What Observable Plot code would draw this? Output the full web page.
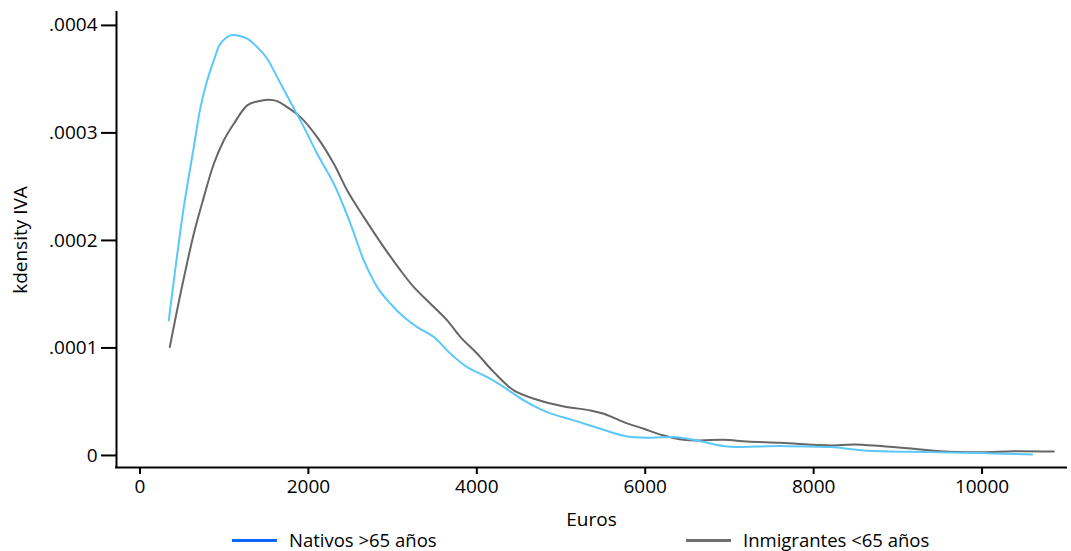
<!DOCTYPE html>
<html>
<head>
<meta charset="utf-8">
<script src="https://cdn.jsdelivr.net/npm/d3@7"></script>
<script src="https://cdn.jsdelivr.net/npm/@observablehq/plot@0.6"></script>
<style>
  html, body { margin: 0; padding: 0; background: #fff; overflow: hidden; }
  #wrap { position: relative; width: 1071px; height: 551px; font-family: "Open Sans", sans-serif; }
  #chart { position: absolute; left: 0; top: 0; }
  #legend { position: absolute; left: 0; top: 530px; width: 1071px; height: 20px; }
  .item { position: absolute; top: 0; height: 20px; line-height: 20px; display: flex; align-items: center; font-size: 18.5px; color: #000; white-space: nowrap; }
  .sw { width: 45px; height: 3px; margin-right: 12px; }
</style>
</head>
<body>
<div id="wrap">
  <div id="chart"></div>
  <div id="legend"></div>
</div>
<script>
// Series names and colours
const seriesNames = ["Nativos >65 años", "Inmigrantes <65 años"];
const lineColors = ["#5ac8fa", "#666666"];
const legendColors = ["#0a66ff", "#6e6e6e"];

// Nativos >65 años (Euros, density)
const nativosX = [342, 402, 520, 639, 719, 798, 877, 956, 1075, 1154, 1273, 1392, 1511, 1629, 1787, 1946, 2104, 2302, 2500, 2658, 2817, 2975, 3133, 3292, 3490, 3688, 3886, 4124, 4321, 4558, 4836, 5152, 5469, 5786, 6063, 6380, 6656, 6974, 7607, 8201, 8596, 9388, 9982, 10596];
const nativosY = [1.256, 1.628, 2.31, 2.868, 3.24, 3.488, 3.674, 3.83, 3.907, 3.907, 3.876, 3.798, 3.69, 3.519, 3.287, 3.054, 2.806, 2.527, 2.155, 1.814, 1.566, 1.411, 1.287, 1.194, 1.101, 0.946, 0.821, 0.728, 0.636, 0.512, 0.403, 0.326, 0.248, 0.177, 0.165, 0.17, 0.133, 0.084, 0.087, 0.078, 0.047, 0.031, 0.022, 0.009].map(v => v * 1e-4);

// Inmigrantes <65 años (Euros, density)
const inmigX = [354, 481, 639, 758, 877, 995, 1114, 1273, 1392, 1530, 1629, 1748, 1906, 2104, 2302, 2461, 2658, 2895, 3094, 3252, 3450, 3648, 3806, 4005, 4202, 4439, 4717, 5033, 5350, 5509, 5746, 5983, 6221, 6458, 6656, 6933, 7211, 7607, 8003, 8201, 8477, 8794, 9190, 9507, 9982, 10378, 10853];
const inmigY = [1.008, 1.504, 2.062, 2.403, 2.713, 2.93, 3.085, 3.256, 3.293, 3.309, 3.296, 3.24, 3.147, 2.961, 2.713, 2.465, 2.217, 1.938, 1.721, 1.566, 1.411, 1.256, 1.101, 0.946, 0.775, 0.605, 0.518, 0.456, 0.419, 0.388, 0.31, 0.248, 0.186, 0.146, 0.14, 0.146, 0.13, 0.118, 0.10, 0.093, 0.102, 0.087, 0.062, 0.04, 0.031, 0.04, 0.037].map(v => v * 1e-4);

// Ticks and scale extents
const xTicks = [0, 2000, 4000, 6000, 8000, 10000];
const yTicks = [0, 0.0001, 0.0002, 0.0003, 0.0004];
const yTickLabels = ["0", ".0001", ".0002", ".0003", ".0004"];
const xDomain = [-279, 11003];
const yDomain = [-0.0000112, 0.000412];

const nativos = nativosX.map((x, i) => ({x, y: nativosY[i]}));
const inmig = inmigX.map((x, i) => ({x, y: inmigY[i]}));

const chart = Plot.plot({
  width: 1071,
  height: 530,
  marginLeft: 116,
  marginRight: 5,
  marginTop: 12,
  marginBottom: 63,
  style: {fontFamily: "Open Sans, sans-serif", fontSize: "19px", color: "#000", background: "#fff", overflow: "visible"},
  x: {domain: xDomain},
  y: {domain: yDomain},
  marks: [
    Plot.axisY({
      ticks: yTicks,
      tickFormat: d => yTickLabels[yTicks.indexOf(d)],
      tickSize: 15,
      tickPadding: 4,
      strokeWidth: 2,
      label: "kdensity IVA",
      labelAnchor: "center",
      labelArrow: "none",
      labelOffset: 103,
      fontSize: 19
    }),
    Plot.axisX({
      ticks: xTicks,
      tickFormat: d => String(d),
      tickSize: 7,
      tickPadding: 5,
      strokeWidth: 2,
      label: "Euros",
      labelAnchor: "center",
      labelArrow: "none",
      labelOffset: 58,
      fontSize: 19
    }),
    Plot.ruleX([xDomain[0]], {stroke: "#000", strokeWidth: 2, strokeLinecap: "square"}),
    Plot.ruleY([yDomain[0]], {stroke: "#000", strokeWidth: 2, strokeLinecap: "square"}),
    Plot.line(inmig, {x: "x", y: "y", stroke: lineColors[1], strokeWidth: 2, curve: "catmull-rom"}),
    Plot.line(nativos, {x: "x", y: "y", stroke: lineColors[0], strokeWidth: 2, curve: "catmull-rom"})
  ]
});
document.getElementById("chart").appendChild(chart);

// Legend
const legend = document.getElementById("legend");
const lefts = [232, 686];
seriesNames.forEach((name, i) => {
  const item = document.createElement("div");
  item.className = "item";
  item.style.left = lefts[i] + "px";
  const sw = document.createElement("div");
  sw.className = "sw";
  sw.style.background = legendColors[i];
  const t = document.createElement("span");
  t.textContent = name;
  item.appendChild(sw);
  item.appendChild(t);
  legend.appendChild(item);
});
</script>
</body>
</html>
